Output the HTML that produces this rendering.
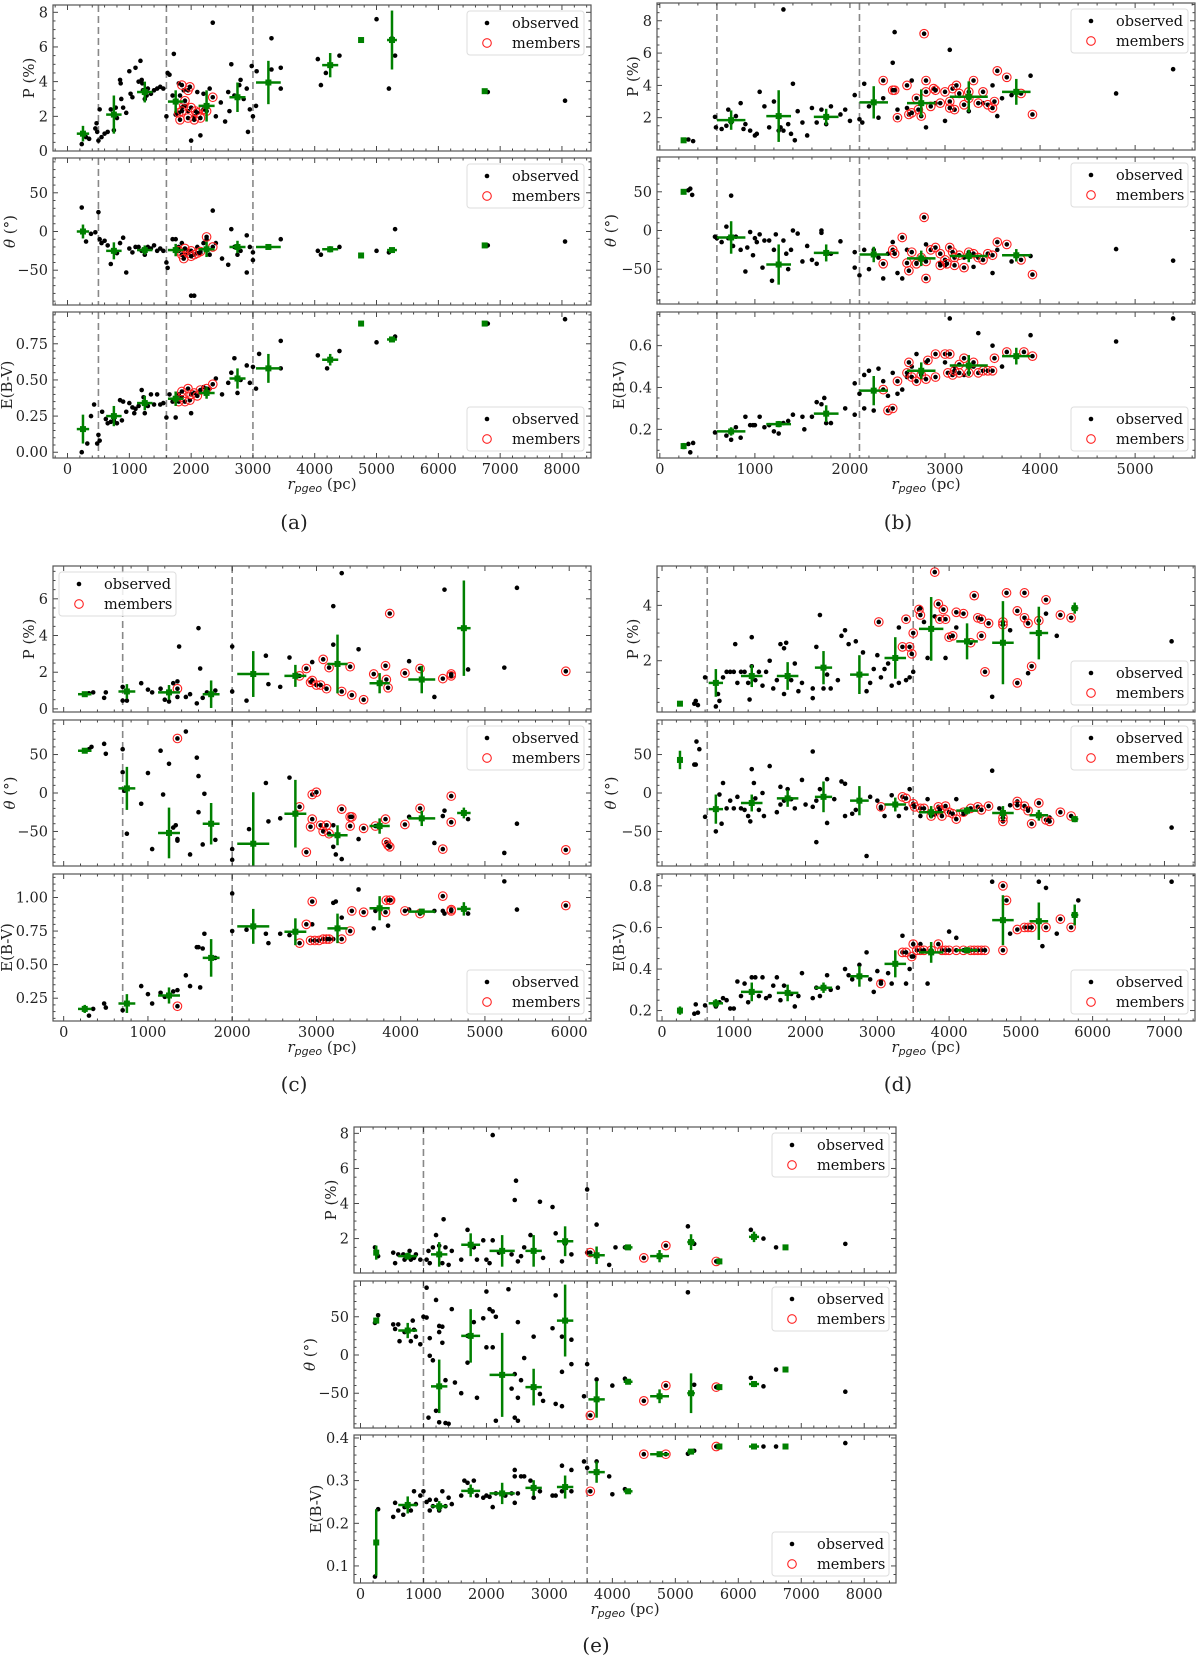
<!DOCTYPE html>
<html><head><meta charset="utf-8"><title>Polarization vs distance</title>
<style>
html,body{margin:0;padding:0;background:#fff;}
svg{display:block;font-family:"DejaVu Serif","Liberation Serif",serif;}
</style></head>
<body>
<svg id="fig" width="1200" height="1658" viewBox="0 0 1200 1658" xmlns="http://www.w3.org/2000/svg"></svg>
<script>
// ===== Panel (a) =====
const aP_obs=[[230,0.4],[300,0.8],[350,0.7],[450,1.3],[470,1.6],[480,1.1],[500,0.6],[520,2.4],[550,0.8],[600,1.0],[650,1.1],[700,2.4],[750,1.2],[780,2.5],[800,1.9],[850,4.1],[860,3.9],[870,3.0],[900,2.5],[950,2.2],[1000,4.6],[1020,3.3],[1050,3.1],[1100,4.8],[1150,4.0],[1180,5.2],[1200,4.1],[1210,3.9],[1220,3.5],[1250,3.0],[1280,3.2],[1300,3.6],[1350,3.3],[1400,3.5],[1450,3.6],[1500,3.7],[1550,3.6],[1600,2.0],[1620,4.5],[1650,4.4],[1700,3.2],[1720,5.6],[1750,2.1],[1800,3.9],[1820,3.2],[1850,2.5],[1880,3.5],[1900,2.6],[1950,2.3],[2000,0.6],[2050,2.0],[2100,3.4],[2150,0.9],[2200,3.3],[2300,3.6],[2350,7.4],[2400,2.0],[2480,2.8],[2550,1.7],[2600,3.4],[2620,2.3],[2650,5.0],[2700,3.2],[2780,3.8],[2800,4.1],[2850,3.0],[2900,3.6],[2920,1.1],[2950,2.4],[2980,4.9],[3000,2.0],[3050,2.6],[3060,4.6],[3300,6.5],[3300,4.7],[3450,4.8],[3450,3.6],[4050,5.3],[4100,3.8],[4180,4.5],[4400,5.5],[5000,7.6],[5200,3.6],[5250,6.5],[5300,5.5],[6800,3.4],[8050,2.9]];
const aP_mem=[[1800,2.2],[1820,1.8],[1850,3.8],[1880,2.6],[1950,1.9],[1950,3.5],[1980,3.7],[2000,2.5],[2050,1.8],[2070,2.3],[2100,2.2],[2150,1.9],[2200,2.4],[2250,2.3],[2350,3.1],[1900,2.9],[1850,2.3]];
const aP_bin=[[250,1.0,100,0.45],[750,2.1,125,1.1],[1250,3.4,125,0.6],[1750,2.85,125,0.65],[2250,2.6,130,0.9],[2750,3.1,130,0.85],[3250,3.95,200,1.25],[4250,4.95,130,0.7],[4750,6.4,0,0],[5250,6.4,80,1.7],[6750,3.45,0,0]];
const aT_obs=[[230,31],[300,-13],[380,-3],[450,-1],[500,25],[520,-10],[550,-15],[600,-12],[650,-18],[700,-42],[750,-25],[800,-28],[850,-15],[900,-8],[950,-53],[1000,-22],[1050,-27],[1100,-20],[1150,-20],[1200,-25],[1250,-30],[1300,-20],[1350,-22],[1400,-18],[1450,-25],[1500,-22],[1550,-25],[1600,-40],[1620,-47],[1700,-10],[1750,-10],[1800,-20],[1850,-15],[1900,-30],[1950,-25],[2000,-83],[2050,-83],[2100,-20],[2150,-28],[2200,-15],[2250,-10],[2300,-30],[2350,27],[2400,-15],[2500,-35],[2600,-43],[2650,3],[2700,-20],[2750,-30],[2800,-25],[2900,-53],[2900,-5],[2950,-20],[3000,-27],[3000,-37],[3450,-10],[4050,-25],[4100,-30],[4400,-20],[5000,-25],[5200,-27],[5300,3],[6800,-18],[8050,-13]];
const aT_mem=[[1800,-25],[1850,-30],[1880,-35],[1950,-28],[2000,-25],[2050,-30],[2100,-28],[2150,-26],[2250,-7],[2350,-20],[1900,-22],[2000,-32]];
const aT_bin=[[250,0,100,9],[750,-25,125,11],[1250,-24,125,6],[1750,-24,125,8],[2250,-23,130,10],[2750,-20,130,8],[3250,-20,200,3],[4250,-23,130,4],[4750,-31,0,0],[5250,-24,80,3],[6750,-18,0,0]];
const aE_obs=[[230,0.0],[320,0.06],[380,0.25],[430,0.33],[480,0.06],[500,0.12],[520,0.08],[560,0.28],[620,0.23],[650,0.2],[700,0.21],[750,0.22],[800,0.2],[850,0.36],[880,0.22],[900,0.35],[950,0.28],[1000,0.34],[1050,0.31],[1080,0.27],[1100,0.30],[1150,0.32],[1200,0.43],[1230,0.38],[1250,0.27],[1300,0.32],[1350,0.40],[1400,0.33],[1450,0.40],[1500,0.33],[1550,0.34],[1600,0.24],[1650,0.40],[1700,0.35],[1750,0.24],[1800,0.40],[2000,0.27],[2200,0.45],[2300,0.44],[2400,0.51],[2500,0.40],[2600,0.48],[2650,0.55],[2700,0.65],[2750,0.41],[2800,0.50],[2900,0.60],[2950,0.48],[3000,0.59],[3050,0.44],[3100,0.68],[3450,0.77],[3450,0.58],[4050,0.67],[4200,0.58],[4400,0.70],[5000,0.76],[5300,0.80],[6800,0.89],[8050,0.92]];
const aE_mem=[[1800,0.35],[1850,0.38],[1900,0.35],[1950,0.44],[1980,0.36],[2000,0.40],[2050,0.41],[2100,0.39],[2150,0.43],[2250,0.44],[2350,0.47],[1850,0.42]];
const aE_bin=[[250,0.16,100,0.1],[750,0.25,125,0.07],[1250,0.34,125,0.05],[1750,0.37,125,0.05],[2250,0.41,130,0.04],[2750,0.51,130,0.07],[3250,0.58,200,0.1],[4250,0.64,130,0.04],[4750,0.89,0,0],[5250,0.78,80,0.01],[6750,0.89,0,0]];
const aVlines=[500,1600,3000];

// ===== Panel (b) =====
const bP_obs=[[250,0.6],[300,0.65],[350,0.55],[580,2.05],[590,1.4],[650,1.3],[700,1.5],[720,2.5],[750,1.7],[800,2.1],[850,2.9],[880,1.3],[900,1.6],[950,1.2],[1000,0.9],[1020,1.0],[1050,3.6],[1100,2.7],[1150,1.4],[1200,3.0],[1250,1.2],[1270,1.4],[1300,8.7],[1300,1.2],[1350,1.6],[1380,1.0],[1400,4.1],[1420,0.6],[1450,2.4],[1500,1.7],[1550,0.9],[1600,2.6],[1650,1.7],[1700,2.5],[1750,1.6],[1800,2.7],[1900,2.2],[1950,2.5],[2000,1.8],[2050,3.4],[2100,1.9],[2130,1.7],[2150,4.1],[2200,2.7],[2300,2.0],[2350,3.2],[2450,5.4],[2470,7.3],[2500,2.5],[2600,2.6],[2650,4.3],[2800,1.4],[2900,2.9],[3000,1.8],[3050,6.2],[3100,2.5],[3250,2.4],[3400,2.9],[3500,4.0],[3550,2.1],[3600,3.2],[3700,3.4],[3900,4.6],[4800,3.5],[5400,5.0]];
const bP_mem=[[2350,4.3],[2450,3.7],[2470,3.7],[2500,2.0],[2600,4.0],[2620,2.2],[2650,2.3],[2700,3.2],[2720,2.5],[2750,2.1],[2780,7.2],[2800,4.3],[2800,3.6],[2850,2.7],[2880,3.8],[2900,3.7],[2950,2.9],[3000,3.6],[3050,3.0],[3080,3.8],[3100,2.5],[3120,4.0],[3150,3.5],[3200,2.8],[3250,3.6],[3300,4.3],[3350,2.9],[3400,3.6],[3450,2.8],[3500,2.6],[3520,3.0],[3550,4.9],[3650,4.5],[3800,3.5],[3920,2.2],[3050,2.6],[3250,3.2]];
const bP_bin=[[250,0.6,0,0],[750,1.85,150,0.6],[1250,2.1,130,1.6],[1750,2.05,130,0.5],[2250,2.95,150,1.0],[2750,2.9,150,0.85],[3250,3.3,200,0.95],[3750,3.6,150,0.8]];
const bT_obs=[[250,50],[300,52],[320,54],[340,46],[580,-8],[600,-10],[650,-15],[700,5],[720,-10],[750,45],[770,-20],[800,-8],[850,-25],[900,-53],[920,-22],[950,-2],[980,-32],[1000,-10],[1020,-15],[1050,-5],[1080,-48],[1100,-13],[1150,-13],[1180,-65],[1200,-25],[1220,-5],[1300,-13],[1330,-30],[1350,-50],[1380,-25],[1400,0],[1450,-4],[1500,-40],[1550,-20],[1600,-38],[1650,-43],[1700,-3],[1700,0],[1800,-30],[1900,-14],[2050,-28],[2050,-48],[2100,-58],[2150,-25],[2200,-50],[2250,-25],[2300,-35],[2350,-62],[2400,-30],[2450,-15],[2500,-55],[2550,-62],[2600,-25],[2700,-42],[2750,-35],[2800,-18],[2950,-42],[3000,-45],[3200,-35],[3300,-47],[3500,-55],[3550,-25],[3700,-40],[3900,-33],[4800,-24],[5400,-39]];
const bT_mem=[[2350,-43],[2450,-25],[2470,-30],[2550,-9],[2600,-42],[2620,-52],[2650,-28],[2700,-43],[2750,-35],[2780,17],[2800,-62],[2800,-40],[2850,-25],[2900,-22],[2950,-30],[3000,-38],[3020,-43],[3050,-22],[3080,-28],[3100,-35],[3150,-32],[3200,-48],[3250,-28],[3300,-30],[3350,-35],[3400,-38],[3450,-30],[3500,-32],[3550,-15],[3650,-18],[3800,-38],[3920,-57],[3100,-45],[2950,-45]];
const bT_bin=[[250,50,0,0],[750,-9,150,21],[1250,-44,130,26],[1750,-29,130,11],[2250,-31,150,10],[2750,-36,150,10],[3250,-33,200,8],[3750,-32,150,8]];
const bE_obs=[[250,0.12],[300,0.13],[320,0.09],[350,0.135],[580,0.185],[700,0.17],[750,0.15],[800,0.21],[850,0.16],[900,0.26],[950,0.22],[980,0.22],[1000,0.22],[1050,0.26],[1100,0.21],[1150,0.22],[1200,0.19],[1250,0.18],[1300,0.23],[1350,0.24],[1400,0.27],[1500,0.26],[1520,0.2],[1600,0.26],[1650,0.33],[1700,0.32],[1730,0.35],[1750,0.23],[1800,0.23],[1950,0.30],[2050,0.27],[2050,0.42],[2100,0.37],[2150,0.3],[2150,0.46],[2200,0.48],[2250,0.29],[2300,0.49],[2350,0.43],[2400,0.36],[2450,0.47],[2500,0.37],[2550,0.39],[2600,0.45],[2650,0.50],[2700,0.56],[2750,0.47],[2800,0.52],[3000,0.52],[3050,0.73],[3100,0.50],[3200,0.46],[3300,0.50],[3350,0.66],[3500,0.60],[3600,0.50],[3900,0.65],[4800,0.62],[5400,0.73]];
const bE_mem=[[2350,0.39],[2400,0.29],[2450,0.30],[2500,0.43],[2600,0.47],[2620,0.52],[2650,0.45],[2700,0.43],[2750,0.46],[2800,0.44],[2820,0.53],[2900,0.56],[2900,0.45],[3000,0.56],[3030,0.47],[3050,0.56],[3080,0.46],[3100,0.48],[3150,0.47],[3200,0.54],[3250,0.47],[3300,0.52],[3350,0.47],[3400,0.48],[3450,0.48],[3500,0.48],[3520,0.54],[3650,0.57],[3830,0.57],[3920,0.55],[3150,0.51]];
const bE_bin=[[250,0.12,0,0.015],[750,0.19,150,0.02],[1250,0.225,130,0.015],[1750,0.275,130,0.04],[2250,0.385,150,0.07],[2750,0.48,150,0.04],[3250,0.505,200,0.05],[3750,0.55,150,0.04]];
const bVlines=[600,2100];

// ===== Panel (c) =====
const cP_obs=[[250,0.8],[300,0.85],[350,0.9],[480,0.6],[500,0.9],[700,1.2],[700,0.45],[750,0.45],[920,1.4],[1000,1.05],[1050,0.9],[1150,1.1],[1200,0.5],[1250,0.4],[1300,1.4],[1350,1.5],[1350,0.65],[1370,3.4],[1450,0.65],[1500,0.8],[1580,0.3],[1600,4.4],[1620,2.2],[1650,0.6],[1700,0.9],[1800,1.0],[2000,3.4],[2000,0.95],[2170,0.45],[2400,2.9],[2430,1.35],[2570,1.2],[2680,2.8],[2950,2.55],[3200,5.6],[3200,3.5],[3300,7.4],[3500,3.25],[4100,2.6],[4400,0.65],[4520,6.5],[4800,2.15],[5230,2.25],[5380,6.6]];
const cP_mem=[[1350,1.1],[2800,1.8],[2880,2.2],[2930,1.45],[2950,1.55],[3000,1.3],[3050,1.3],[3080,2.7],[3120,1.1],[3150,2.25],[3300,0.95],[3400,2.3],[3420,0.75],[3560,0.5],[3680,1.9],[3820,2.35],[3830,1.6],[3850,1.15],[3870,5.2],[4050,1.95],[4230,2.2],[4500,1.65],[4600,1.9],[4600,1.8],[5960,2.05]];
const cP_bin=[[250,0.8,80,0.05],[750,0.95,100,0.4],[1250,0.9,130,0.4],[1750,0.8,100,0.75],[2250,1.9,190,1.25],[2750,1.8,130,0.6],[3250,2.45,120,1.6],[3750,1.4,120,0.55],[4250,1.6,160,0.75],[4750,4.4,80,2.6]];
const cT_obs=[[250,55],[300,57],[330,60],[480,64],[500,51],[700,57],[700,27],[720,3],[750,-53],[920,-14],[1000,26],[1050,-73],[1150,55],[1180,-2],[1250,38],[1300,-45],[1330,-42],[1350,-60],[1350,-62],[1450,80],[1500,-80],[1580,46],[1600,22],[1600,-25],[1650,-67],[1670,-1],[1800,-61],[2000,-73],[2000,-87],[2200,-47],[2400,13],[2430,-37],[2570,-33],[2680,20],[3200,-42],[3200,-70],[3230,-80],[3300,-86],[3500,-60],[4100,-31],[4400,-65],[4500,-30],[4520,-23],[4800,-34],[5230,-78],[5380,-40]];
const cT_mem=[[1350,71],[2800,-18],[2880,-77],[2930,-44],[2950,-34],[2950,-2],[3000,1],[3050,-42],[3080,-50],[3120,-42],[3150,-53],[3300,-21],[3400,-43],[3400,-31],[3420,-31],[3560,-46],[3700,-43],[3820,-34],[3830,-64],[3850,-68],[3870,-70],[4050,-41],[4230,-20],[4500,-73],[4600,-4],[4600,-38],[5960,-74]];
const cT_bin=[[250,55,80,3],[750,6,100,28],[1250,-52,130,33],[1750,-40,100,27],[2250,-66,190,67],[2750,-27,130,44],[3250,-55,120,13],[3750,-43,120,10],[4250,-33,160,10],[4750,-26,80,7]];
const cE_obs=[[250,0.17],[300,0.12],[350,0.17],[480,0.21],[500,0.18],[700,0.16],[920,0.34],[1000,0.28],[1050,0.21],[1150,0.29],[1200,0.26],[1300,0.3],[1350,0.31],[1450,0.42],[1500,0.34],[1580,0.63],[1600,0.63],[1620,0.33],[1650,0.62],[1670,0.73],[1800,0.55],[2000,1.03],[2000,0.75],[2170,0.76],[2400,0.73],[2430,0.66],[2570,0.73],[2680,0.72],[2950,0.80],[3200,0.96],[3230,0.97],[3200,0.69],[3300,0.85],[3500,1.06],[3680,0.77],[3700,0.90],[3850,0.79],[4100,0.91],[4400,0.90],[4500,0.90],[4520,0.88],[4800,0.88],[5230,1.12],[5380,0.91]];
const cE_mem=[[1350,0.19],[2800,0.66],[2880,0.80],[2930,0.68],[2950,0.97],[2980,0.68],[3030,0.68],[3080,0.69],[3120,0.69],[3150,0.69],[3300,0.69],[3400,0.75],[3420,0.90],[3560,0.89],[3820,0.89],[3830,0.98],[3870,0.98],[3880,0.98],[4050,0.90],[4230,0.88],[4500,1.01],[4600,0.91],[4600,0.90],[5960,0.94]];
const cE_bin=[[250,0.17,80,0.03],[750,0.21,100,0.07],[1250,0.27,130,0.06],[1750,0.55,100,0.14],[2250,0.785,190,0.13],[2750,0.745,130,0.1],[3250,0.77,120,0.11],[3750,0.92,120,0.09],[4250,0.895,160,0.02],[4750,0.915,80,0.05]];
const cVlines=[700,2000];

// ===== Panel (d) =====
const dP_obs=[[250,0.45],[450,0.45],[470,0.55],[500,0.4],[600,1.4],[750,0.35],[780,0.8],[800,0.55],[850,1.4],[900,1.6],[950,1.6],[1000,1.6],[1020,2.6],[1050,1.2],[1100,1.6],[1150,1.6],[1200,1.2],[1220,0.6],[1250,1.8],[1250,2.85],[1300,1.3],[1350,1.6],[1400,1.1],[1450,1.6],[1500,2.0],[1550,1.0],[1600,1.3],[1650,2.6],[1700,0.8],[1700,2.45],[1730,2.65],[1800,1.3],[1850,1.9],[1900,0.9],[1950,1.2],[2100,1.0],[2100,0.65],[2150,2.5],[2200,3.65],[2250,1.0],[2300,1.5],[2350,1.0],[2450,1.3],[2500,2.9],[2550,3.1],[2600,2.6],[2700,2.7],[2800,2.3],[2850,0.9],[2900,1.2],[2950,1.7],[3000,2.2],[3050,1.4],[3100,1.7],[3150,1.9],[3200,1.1],[3300,3.2],[3300,1.2],[3400,1.3],[3450,1.4],[3500,1.6],[3600,3.9],[3650,3.4],[3700,2.1],[3800,3.6],[3950,2.1],[4100,3.2],[4600,0.7],[4850,3.1],[5100,1.55],[5250,3.0],[5350,3.7],[5500,2.9],[7100,2.7]];
const dP_mem=[[3020,3.4],[3350,2.5],[3400,3.5],[3450,2.5],[3480,2.25],[3500,3.0],[3580,3.85],[3600,3.65],[3800,5.2],[3850,4.05],[3870,3.5],[3920,3.85],[3950,3.5],[4000,2.85],[4050,2.9],[4100,3.75],[4200,3.7],[4300,2.65],[4350,4.35],[4400,3.55],[4450,3.5],[4450,2.9],[4500,1.6],[4550,3.35],[4750,3.4],[4750,3.3],[4800,4.45],[4950,3.8],[4950,1.2],[5050,3.55],[5050,4.45],[5100,3.35],[5150,1.8],[5250,3.45],[5350,4.2],[5550,3.65],[5700,3.55]];
const dP_bin=[[250,0.45,0,0.05],[750,1.2,100,0.5],[1250,1.45,150,0.4],[1750,1.45,150,0.5],[2250,1.75,120,0.6],[2750,1.5,130,0.7],[3250,2.1,150,0.75],[3750,3.15,170,1.15],[4250,2.7,150,0.65],[4750,2.65,150,1.5],[5250,3.0,130,0.95],[5750,3.9,50,0.2]];
const dT_obs=[[450,37],[470,37],[480,67],[520,57],[600,-31],[750,-50],[800,-2],[830,-40],[850,13],[900,-20],[950,-10],[1000,-20],[1050,-5],[1100,-20],[1150,-22],[1200,-30],[1230,-37],[1250,31],[1280,13],[1300,-7],[1350,-22],[1400,0],[1420,-30],[1500,35],[1600,-25],[1650,-15],[1650,8],[1700,-10],[1750,5],[1800,-8],[1850,-20],[1950,17],[2000,-15],[2100,54],[2100,-18],[2150,-10],[2150,-64],[2200,5],[2300,18],[2300,-39],[2400,-8],[2500,15],[2550,-30],[2550,12],[2650,-27],[2700,-22],[2850,-82],[2900,-5],[3000,-10],[3050,-20],[3100,-30],[3200,-3],[3300,-30],[3400,-20],[3450,5],[3500,-15],[3600,-30],[3700,-8],[3800,-28],[4000,-25],[4100,-8],[4200,-28],[4600,29],[4700,-20],[4850,-16],[5100,-20],[5400,-32],[7100,-45]];
const dT_mem=[[3050,-18],[3350,-5],[3400,-7],[3500,-14],[3520,-18],[3600,-20],[3650,-20],[3750,-30],[3850,-18],[3870,-22],[3900,-30],[3950,-17],[4000,-25],[4050,-27],[4100,-34],[4200,-25],[4300,-20],[4400,-18],[4450,-22],[4550,-17],[4750,-37],[4750,-32],[4950,-11],[4950,-16],[5050,-17],[5100,-23],[5150,-40],[5250,-13],[5350,-35],[5400,-37],[5550,-25],[5700,-30]];
const dT_bin=[[250,43,0,12],[750,-21,100,19],[1250,-13,150,11],[1750,-7,150,11],[2250,-5,120,20],[2750,-10,130,19],[3250,-15,150,9],[3750,-25,170,8],[4250,-23,150,5],[4750,-26,150,9],[5250,-29,130,7],[5750,-34,50,4]];
const dE_obs=[[250,0.2],[450,0.185],[470,0.23],[500,0.19],[600,0.225],[750,0.22],[800,0.24],[850,0.26],[900,0.25],[950,0.21],[1000,0.21],[1050,0.34],[1100,0.27],[1150,0.33],[1200,0.24],[1250,0.36],[1300,0.36],[1350,0.27],[1400,0.36],[1450,0.26],[1500,0.27],[1550,0.32],[1600,0.36],[1650,0.25],[1700,0.32],[1800,0.28],[1850,0.22],[1900,0.27],[1950,0.38],[2100,0.26],[2150,0.31],[2200,0.27],[2300,0.37],[2350,0.3],[2450,0.31],[2550,0.40],[2600,0.37],[2650,0.35],[2750,0.42],[2850,0.48],[2900,0.35],[2950,0.29],[3000,0.39],[3050,0.34],[3150,0.38],[3200,0.33],[3350,0.56],[3400,0.33],[3450,0.40],[3500,0.46],[3600,0.52],[3700,0.33],[4000,0.58],[4100,0.55],[4600,0.82],[4850,0.57],[5250,0.82],[5300,0.51],[5350,0.79],[5500,0.57],[5800,0.73],[7100,0.82]];
const dE_mem=[[3050,0.33],[3350,0.48],[3400,0.48],[3480,0.46],[3500,0.52],[3550,0.49],[3600,0.49],[3650,0.49],[3750,0.49],[3850,0.52],[3900,0.49],[3950,0.49],[4000,0.49],[4100,0.49],[4200,0.49],[4300,0.49],[4350,0.49],[4400,0.49],[4450,0.49],[4500,0.49],[4750,0.49],[4750,0.80],[4800,0.73],[4950,0.59],[5050,0.60],[5100,0.60],[5150,0.60],[5350,0.60],[5550,0.64],[5700,0.60]];
const dE_bin=[[250,0.2,0,0.02],[750,0.235,100,0.02],[1250,0.29,150,0.045],[1750,0.285,150,0.04],[2250,0.31,120,0.025],[2750,0.365,130,0.05],[3250,0.425,150,0.065],[3750,0.48,170,0.05],[4250,0.49,150,0.01],[4750,0.635,150,0.12],[5250,0.63,130,0.09],[5750,0.66,50,0.05]];
const dVlines=[630,3500];

// ===== Panel (e) =====
const eP_obs=[[230,1.5],[280,1.0],[520,1.2],[550,0.6],[600,1.1],[680,1.1],[700,0.8],[780,1.3],[800,0.8],[850,0.9],[880,1.1],[950,0.8],[1050,0.8],[1080,1.3],[1100,0.6],[1150,1.5],[1200,2.2],[1250,1.6],[1300,0.6],[1320,3.1],[1350,1.5],[1400,0.5],[1450,1.3],[1600,0.8],[1700,2.5],[1800,1.5],[1850,0.8],[1950,1.9],[2000,0.8],[2050,0.6],[2100,1.9],[2100,7.9],[2200,1.2],[2400,1.1],[2450,4.2],[2470,5.3],[2500,0.7],[2550,1.0],[2600,1.5],[2700,2.2],[2850,4.1],[2900,0.9],[3050,3.8],[3100,2.3],[3200,0.7],[3250,1.7],[3350,1.1],[3600,4.8],[3600,1.2],[3750,2.8],[3950,0.5],[4050,1.5],[4200,1.5],[5200,2.7],[5300,1.7],[6200,2.5],[6400,2.0],[6600,1.5],[7700,1.7]];
const eP_mem=[[3650,1.2],[4500,0.9],[4850,1.6],[5650,0.7]];
const eP_bin=[[250,1.2,0,0.4],[750,1.0,150,0.2],[1250,1.1,130,0.7],[1750,1.65,150,0.65],[2250,1.3,200,0.9],[2750,1.3,130,0.9],[3250,1.85,130,0.85],[3750,1.05,130,0.5],[4250,1.5,70,0.05],[4750,1.0,150,0.35],[5250,1.8,60,0.45],[5700,0.7,40,0],[6250,2.1,80,0.3],[6750,1.5,0,0]];
const eT_obs=[[230,42],[280,52],[520,40],[550,34],[600,40],[620,18],[700,30],[800,18],[830,45],[850,33],[880,24],[950,14],[1000,50],[1050,88],[1050,49],[1080,-82],[1100,-1],[1100,22],[1150,-7],[1200,-73],[1200,72],[1250,-88],[1250,38],[1250,30],[1300,16],[1300,37],[1350,-33],[1350,-89],[1400,-90],[1450,60],[1500,-36],[1600,-50],[1700,25],[1700,-10],[1800,43],[1850,-56],[1950,48],[2000,10],[2000,83],[2050,60],[2100,57],[2100,10],[2150,-86],[2150,50],[2350,86],[2400,-44],[2450,-25],[2450,-82],[2500,-86],[2500,43],[2500,-56],[2550,-33],[2600,-4],[2750,24],[2850,-51],[2900,-60],[3050,35],[3100,-64],[3100,78],[3200,-67],[3200,24],[3200,-22],[3350,20],[3350,-12],[3550,-54],[3600,-12],[3750,-32],[4000,-40],[4200,-31],[5200,82],[5300,-39],[6200,-30],[6400,-41],[6600,-19],[7700,-48]];
const eT_mem=[[3650,-79],[4500,-60],[4850,-40],[5650,-42]];
const eT_bin=[[250,45,0,4],[750,32,150,10],[1250,-41,130,35],[1750,25,150,35],[2250,-26,200,55],[2750,-42,130,24],[3250,45,130,47],[3750,-58,130,24],[4250,-35,70,3],[4750,-54,150,9],[5250,-50,60,26],[5700,-42,40,0],[6250,-38,80,4],[6750,-19,0,0]];
const eE_obs=[[230,0.075],[280,0.233],[520,0.215],[550,0.248],[600,0.23],[680,0.22],[700,0.238],[800,0.23],[850,0.275],[880,0.245],[950,0.265],[1000,0.275],[1050,0.25],[1100,0.23],[1100,0.255],[1150,0.24],[1200,0.255],[1250,0.23],[1300,0.275],[1350,0.24],[1400,0.26],[1450,0.245],[1600,0.265],[1650,0.30],[1700,0.295],[1750,0.275],[1800,0.30],[1850,0.265],[1950,0.26],[2000,0.265],[2050,0.262],[2100,0.238],[2150,0.27],[2300,0.265],[2400,0.27],[2450,0.31],[2450,0.325],[2450,0.248],[2500,0.27],[2550,0.31],[2600,0.31],[2700,0.30],[2750,0.26],[2850,0.275],[3050,0.265],[3100,0.265],[3200,0.335],[3200,0.275],[3350,0.325],[3350,0.275],[3550,0.345],[3600,0.33],[3750,0.345],[3950,0.31],[4000,0.268],[4200,0.28],[5200,0.363],[5300,0.37],[6400,0.38],[6600,0.38],[7700,0.388]];
const eE_mem=[[3650,0.275],[4500,0.362],[4850,0.362],[5650,0.38]];
const eE_bin=[[250,0.155,0,0.078],[750,0.243,150,0.02],[1250,0.24,130,0.012],[1750,0.276,150,0.015],[2250,0.27,200,0.025],[2750,0.283,130,0.018],[3250,0.285,130,0.027],[3750,0.32,130,0.025],[4250,0.275,70,0.005],[4750,0.362,150,0],[5250,0.368,60,0.005],[5700,0.38,40,0],[6250,0.38,80,0],[6750,0.38,0,0]];
const eVlines=[1000,3600];

// ===== Tick arrays =====
const aXticks=[0,1000,2000,3000,4000,5000,6000,7000,8000];
const bXticks=[0,1000,2000,3000,4000,5000];
const cXticks=[0,1000,2000,3000,4000,5000,6000];
const dXticks=[0,1000,2000,3000,4000,5000,6000,7000];
const eXticks=[0,1000,2000,3000,4000,5000,6000,7000,8000];
const thetaTicks=[-50,0,50];

const NS="http://www.w3.org/2000/svg";
const svg=document.getElementById('fig');
function mk(tag,attrs,parent){const e=document.createElementNS(NS,tag);for(const k in attrs)e.setAttribute(k,attrs[k]);(parent||svg).appendChild(e);return e;}
function fmtNum(v,dec){let s=v.toFixed(dec);if(v<0)s='\u2212'+s.slice(1);return s;}

function subplot(p){
  const g=mk('g',{});
  
  
  const L=p.L,R=p.R,T=p.T,B=p.B;
  const sx=v=>L+(v-p.xlim[0])/(p.xlim[1]-p.xlim[0])*(R-L);
  const sy=v=>B-(v-p.ylim[0])/(p.ylim[1]-p.ylim[0])*(B-T);
  const clip='c'+p.name;
  const cp=mk('clipPath',{id:clip},g);
  mk('rect',{x:L,y:T,width:R-L,height:B-T},cp);
  p.vlines.forEach(v=>{
    const ln=mk('line',{x1:sx(v),x2:sx(v),y1:T,y2:B,stroke:'#888','stroke-width':1.6,'stroke-dasharray':'7,4'},g);
    
    
  });
  const dg=mk('g',{'clip-path':'url(#'+clip+')'},g);
  p.obs.forEach(d=>{
    const c=mk('circle',{cx:sx(d[0]),cy:sy(d[1]),r:2.3,fill:'#000'},dg);
    
    
  });
  p.mem.forEach(d=>{
    const c=mk('circle',{cx:sx(d[0]),cy:sy(d[1]),r:2.3,fill:'#000'},dg);
    
    
    const o=mk('circle',{cx:sx(d[0]),cy:sy(d[1]),r:4.3,fill:'none',stroke:'#f22','stroke-width':1.1},dg);
    
    
  });
  p.bins.forEach(d=>{
    const x=sx(d[0]),y=sy(d[1]);
    const bg=mk('g',{stroke:'#008000','stroke-width':2.5},dg);
    
    
    if(d[2]>0)mk('line',{x1:sx(d[0]-d[2]),x2:sx(d[0]+d[2]),y1:y,y2:y},bg);
    if(d[3]>0)mk('line',{x1:x,x2:x,y1:sy(d[1]-d[3]),y2:sy(d[1]+d[3])},bg);
    mk('rect',{x:x-3,y:y-3,width:6,height:6,fill:'#008000',stroke:'none'},bg);
  });
  const tg=mk('g',{stroke:'#333','stroke-width':0.9},g);
  
  
  for(let v=Math.ceil(p.xlim[0]/200)*200;v<=p.xlim[1];v+=200){
    const maj=v%1000===0,l=maj?5:2.5,x=sx(v);
    mk('line',{x1:x,x2:x,y1:B,y2:B-l},tg);mk('line',{x1:x,x2:x,y1:T,y2:T+l},tg);
  }
  const ys=p.yminor;
  for(let k=Math.ceil(p.ylim[0]/ys-1e-9);k*ys<=p.ylim[1]+1e-9;k++){
    const v=k*ys;const maj=p.yticks.some(t=>Math.abs(t-v)<ys/10);const l=maj?5:2.5,y=sy(v);
    mk('line',{x1:L,x2:L+l,y1:y,y2:y},tg);mk('line',{x1:R,x2:R-l,y1:y,y2:y},tg);
  }
  p.yticks.forEach(t=>{
    const tx=mk('text',{x:L-5,y:sy(t)+5,'text-anchor':'end','font-size':14.5,fill:'#222'},g);
    tx.textContent=fmtNum(t,p.ydec);
    
    
  });
  if(p.xticks){
    p.xticks.forEach(t=>{
      const tx=mk('text',{x:sx(t),y:B+16,'text-anchor':'middle','font-size':14.5,fill:'#222'},g);
      tx.textContent=String(t);
      
      
    });
    const xl=mk('text',{x:(L+R)/2,y:B+31,'text-anchor':'middle','font-size':15,fill:'#222'},g);
    xl.innerHTML='<tspan font-style="italic">r</tspan><tspan font-family="DejaVu Sans, sans-serif" font-style="italic" font-size="11" dy="3">pgeo</tspan><tspan dy="-3">  (pc)</tspan>';
    
    
  }
  const cy=(T+B)/2;
  const yl=mk('text',{x:p.labelX,y:cy,'text-anchor':'middle','font-size':15,fill:'#222',transform:`rotate(-90 ${p.labelX} ${cy})`,'dominant-baseline':'middle'},g);
  yl.innerHTML=p.ylabel;
  
  
  const fr=mk('rect',{x:L,y:T,width:R-L,height:B-T,fill:'none',stroke:'#555','stroke-width':1.2},g);
  
  
  const lw=117,lh=44;
  let lx=p.leg==='ul'?L+6:R-7-lw;
  let ly=p.leg==='lr'?B-7-lh:T+6;
  const lg=mk('g',{},g);
  
  
  mk('rect',{x:lx,y:ly,width:lw,height:lh,rx:3,fill:'#fff','fill-opacity':0.85,stroke:'#ddd','stroke-width':1},lg);
  const m1=mk('circle',{cx:lx+20,cy:ly+12,r:2.3,fill:'#000'},lg);
  
  
  const m2=mk('circle',{cx:lx+20,cy:ly+32,r:4.3,fill:'none',stroke:'#f22','stroke-width':1.1},lg);
  
  
  const t1=mk('text',{x:lx+45,y:ly+17,'font-size':14.5,fill:'#111'},lg);t1.textContent='observed';
  
  
  const t2=mk('text',{x:lx+45,y:ly+37,'font-size':14.5,fill:'#111'},lg);t2.textContent='members';
  
  
}

const PL='P (%)',TL='<tspan font-style="italic">θ</tspan> (°)',EL='E(B-V)';
function panel(id,L,R,rows,xlim,xticks,vlines,sets,ylims,yt,yminor,ydec,legs,labelXs,cap){
  for(let i=0;i<3;i++){
    subplot({name:`panel-${id}-${['polarization','angle','reddening'][i]}`,L,R,T:rows[i][0],B:rows[i][1],xlim,ylim:ylims[i],
      yticks:yt[i],yminor:yminor[i],ydec:ydec[i],xticks:i===2?xticks:null,vlines,
      obs:sets[i][0],mem:sets[i][1],bins:sets[i][2],ylabel:[PL,TL,EL][i],labelX:labelXs[i],leg:legs[i]});
  }
  const c=mk('text',{x:cap[0],y:cap[1],'text-anchor':'middle','font-size':20,fill:'#222'});
  c.textContent='('+id+')';
  
  
}
const rowsTop1=[[5,151],[158,305],[312,458]];
const rowsTop2=[[3,150],[157,304],[312,458]];
const rowsMid=[[566,712],[720,866],[874,1021]];
const rowsE=[[1127,1273],[1281,1428],[1435,1583]];

panel('a',53,591,rowsTop1,[-235,8470],aXticks,aVlines,[[aP_obs,aP_mem,aP_bin],[aT_obs,aT_mem,aT_bin],[aE_obs,aE_mem,aE_bin]],
  [[0,8.42],[-95,95],[-0.04,0.97]],[[0,2,4,6,8],thetaTicks,[0,0.25,0.5,0.75]],[0.5,10,0.05],[0,0,2],['ur','ur','lr'],[30,11,8],[294,529]);
panel('b',657,1195,rowsTop2,[-30,5630],bXticks,bVlines,[[bP_obs,bP_mem,bP_bin],[bT_obs,bT_mem,bT_bin],[bE_obs,bE_mem,bE_bin]],
  [[0,9.1],[-95,95],[0.063,0.761]],[[2,4,6,8],thetaTicks,[0.2,0.4,0.6]],[0.5,10,0.05],[0,0,1],['ur','ur','lr'],[634,612,620],[898,529]);
panel('c',53,591,rowsMid,[-127,6259],cXticks,cVlines,[[cP_obs,cP_mem,cP_bin],[cT_obs,cT_mem,cT_bin],[cE_obs,cE_mem,cE_bin]],
  [[-0.17,7.79],[-95,95],[0.08,1.175]],[[0,2,4,6],thetaTicks,[0.25,0.5,0.75,1.0]],[0.5,10,0.05],[0,0,2],['ul','ur','lr'],[30,11,8],[294,1091]);
panel('d',657,1195,rowsMid,[-70,7426],dXticks,dVlines,[[dP_obs,dP_mem,dP_bin],[dT_obs,dT_mem,dT_bin],[dE_obs,dE_mem,dE_bin]],
  [[0.15,5.42],[-95,95],[0.15,0.857]],[[2,4],thetaTicks,[0.2,0.4,0.6,0.8]],[0.5,10,0.05],[0,0,1],['lr','ur','lr'],[634,612,620],[898,1091]);
panel('e',354,896,rowsE,[-103,8505],eXticks,eVlines,[[eP_obs,eP_mem,eP_bin],[eT_obs,eT_mem,eT_bin],[eE_obs,eE_mem,eE_bin]],
  [[0.04,8.36],[-95.5,96.8],[0.06,0.407]],[[2,4,6,8],thetaTicks,[0.1,0.2,0.3,0.4]],[0.5,10,0.02],[0,0,1],['ur','ur','lr'],[332,311,317],[596,1652]);
</script>
</body></html>
